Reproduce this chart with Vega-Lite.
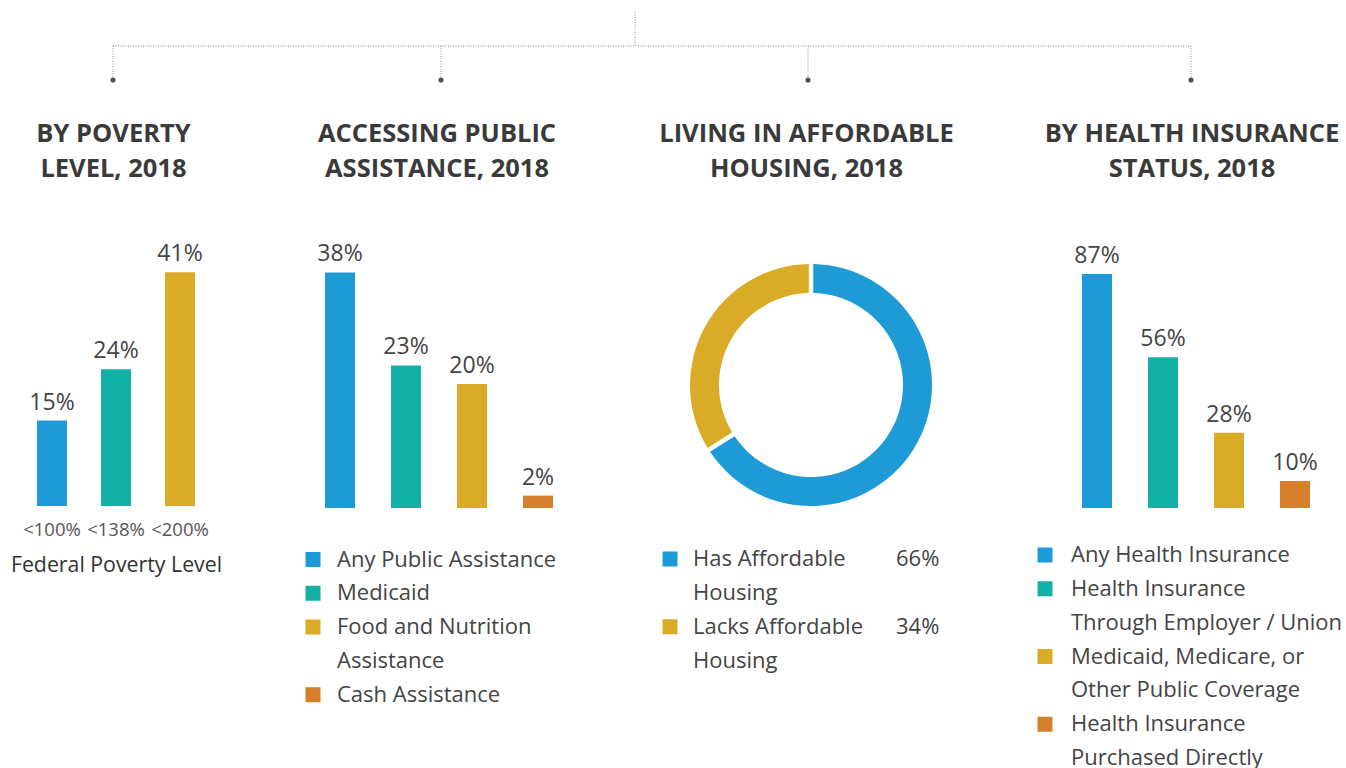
{
  "$schema": "https://vega.github.io/schema/vega-lite/v6.json",
  "padding": 0,
  "background": "white",
  "bounds": "flush",
  "spacing": 160,
  "config": {
    "view": {"stroke": null},
    "font": "Open Sans",
    "legend": {
      "orient": "none",
      "direction": "vertical",
      "symbolType": "square",
      "symbolSize": 225,
      "symbolStrokeWidth": 0,
      "labelFontSize": 22,
      "labelColor": "#444444",
      "labelFont": "Open Sans",
      "labelLimit": 400,
      "rowPadding": 11.75,
      "labelOffset": 13,
      "padding": 0
    },
    "title": {"fontSize": 25.5, "fontWeight": "bold", "color": "#3a3a3a", "lineHeight": 35, "frame": "group", "anchor": "middle", "offset": 58, "font": "Open Sans"}
  },
  "vconcat": [
    {
      "width": 1346,
      "height": 80,
      "layer": [
        {
          "data": {"values": [
            {"from": 1, "to": 4, "lvl": 1, "lvl2": 1},
            {"from": 2.5, "to": 2.5, "lvl": 2, "lvl2": 1},
            {"from": 1, "to": 1, "lvl": 1, "lvl2": 0},
            {"from": 2, "to": 2, "lvl": 1, "lvl2": 0},
            {"from": 3, "to": 3, "lvl": 1, "lvl2": 0},
            {"from": 4, "to": 4, "lvl": 1, "lvl2": 0}
          ]},
          "mark": {"type": "rule", "strokeDash": [1, 1.5], "color": "#8a8a8a", "strokeWidth": 1},
          "encoding": {
            "x": {"field": "from", "type": "quantitative", "scale": {"domain": [1, 2, 2.5, 3, 4], "range": [113, 441, 635, 808, 1191], "nice": false, "zero": false}, "axis": null},
            "x2": {"field": "to"},
            "y": {"field": "lvl", "type": "quantitative", "scale": {"domain": [0, 2.353], "nice": false, "zero": false}, "axis": null},
            "y2": {"field": "lvl2"}
          }
        },
        {
          "data": {"values": [
            {"from": 1, "lvl": 0},
            {"from": 2, "lvl": 0},
            {"from": 3, "lvl": 0},
            {"from": 4, "lvl": 0}
          ]},
          "mark": {"type": "circle", "size": 26, "color": "#505050", "opacity": 1},
          "encoding": {
            "x": {"field": "from", "type": "quantitative"},
            "y": {"field": "lvl", "type": "quantitative"}
          }
        }
      ]
    },
    {
      "hconcat": [
        {
          "width": 232,
          "height": 266,
          "title": {"text": ["BY POVERTY", "LEVEL, 2018"], "dx": -2.5},
          "data": {"values": [
            {"fpl": "<100%", "pct": 0.15},
            {"fpl": "<138%", "pct": 0.24},
            {"fpl": "<200%", "pct": 0.41}
          ]},
          "encoding": {
            "x": {"field": "fpl", "type": "nominal", "sort": null,
              "scale": {"paddingInner": 0.53125, "paddingOuter": 0.578},
              "axis": {"title": "Federal Poverty Level", "labelAngle": 0, "domain": false, "ticks": false, "tickSize": 0, "labelPadding": 14, "labelFontSize": 18.5, "labelColor": "#555555", "labelFont": "Open Sans", "titleFontSize": 21.3, "titleFontWeight": "normal", "titleColor": "#333333", "titleFont": "Open Sans", "titlePadding": 16}},
            "y": {"field": "pct", "type": "quantitative", "scale": {"domain": [0, 0.4667], "nice": false}, "axis": null}
          },
          "layer": [
            {"mark": {"type": "bar"},
             "encoding": {"color": {"field": "fpl", "type": "nominal", "sort": null, "scale": {"domain": ["<100%", "<138%", "<200%"], "range": ["#1e9ad6", "#12b0a6", "#daab26"]}, "legend": null}}},
            {"mark": {"type": "text", "baseline": "alphabetic", "dy": -11, "fontSize": 23, "color": "#444444"},
             "encoding": {"text": {"field": "pct", "type": "quantitative", "format": ".0%"}}}
          ]
        },
        {
          "width": 274,
          "height": 268,
          "title": {"text": ["ACCESSING PUBLIC", "ASSISTANCE, 2018"], "dx": -2},
          "data": {"values": [
            {"cat": "Any Public Assistance", "pct": 0.38},
            {"cat": "Medicaid", "pct": 0.23},
            {"cat": "Food and Nutrition Assistance", "pct": 0.20},
            {"cat": "Cash Assistance", "pct": 0.02}
          ]},
          "encoding": {
            "x": {"field": "cat", "type": "nominal", "sort": null, "scale": {"paddingInner": 0.5455, "paddingOuter": 0.3485}, "axis": null},
            "y": {"field": "pct", "type": "quantitative", "scale": {"domain": [0, 0.4323], "nice": false}, "axis": null}
          },
          "layer": [
            {"mark": {"type": "bar"},
             "encoding": {"color": {"field": "cat", "type": "nominal", "sort": null,
               "scale": {"domain": ["Any Public Assistance", "Medicaid", "Food and Nutrition Assistance", "Cash Assistance"], "range": ["#1e9ad6", "#12b0a6", "#daab26", "#d67f2a"]},
               "legend": {"title": null, "legendX": 0, "legendY": 308.5, "labelOffset": 13, "labelExpr": "datum.label == 'Food and Nutrition Assistance' ? ['Food and Nutrition', 'Assistance'] : datum.label", "encode": {"labels": {"update": {"lineHeight": {"value": 33.75}}}}}}}},
            {"mark": {"type": "text", "baseline": "alphabetic", "dy": -11, "fontSize": 23, "color": "#444444"},
             "encoding": {"text": {"field": "pct", "type": "quantitative", "format": ".0%"}}}
          ]
        },
        {
          "width": 330,
          "height": 290,
          "title": {"text": ["LIVING IN AFFORDABLE", "HOUSING, 2018"], "dx": -4.5},
          "data": {"values": [
            {"cat": "Has Affordable Housing", "pct": 0.66},
            {"cat": "Lacks Affordable Housing", "pct": 0.34}
          ]},
          "mark": {"type": "arc", "outerRadius": 121, "innerRadius": 92, "padAngle": 0.03},
          "encoding": {
            "theta": {"field": "pct", "type": "quantitative", "stack": true},
            "order": {"field": "pct", "type": "quantitative", "sort": "descending"},
            "color": {"field": "cat", "type": "nominal", "sort": null,
              "scale": {"domain": ["Has Affordable Housing", "Lacks Affordable Housing"], "range": ["#1e9ad6", "#daab26"]},
              "legend": {"title": null, "legendX": 13, "legendY": 308, "labelOffset": 12, "labelExpr": "[replace(datum.label, ' Housing', ''), 'Housing']", "encode": {"labels": {"update": {"lineHeight": {"value": 33.75}}}}}},
            "opacity": {"field": "pct", "type": "ordinal", "sort": "descending",
              "scale": {"range": [1, 1]},
              "legend": {"title": null, "legendX": 216, "legendY": 308, "labelOffset": 12, "symbolType": "M0,0", "rowPadding": 45.5, "labelExpr": "format(datum.value, '.0%')"}}
          }
        },
        {
          "width": 300,
          "height": 268,
          "title": {"text": ["BY HEALTH INSURANCE", "STATUS, 2018"], "dx": -4},
          "data": {"values": [
            {"cat": "Any Health Insurance", "pct": 0.87},
            {"cat": "Health Insurance Through Employer / Union", "pct": 0.56},
            {"cat": "Medicaid, Medicare, or Other Public Coverage", "pct": 0.28},
            {"cat": "Health Insurance Purchased Directly", "pct": 0.10}
          ]},
          "encoding": {
            "x": {"field": "cat", "type": "nominal", "sort": null, "scale": {"paddingInner": 0.5455, "paddingOuter": 0.5455}, "axis": null},
            "y": {"field": "pct", "type": "quantitative", "scale": {"domain": [0, 0.996], "nice": false}, "axis": null}
          },
          "layer": [
            {"mark": {"type": "bar"},
             "encoding": {"color": {"field": "cat", "type": "nominal", "sort": null,
               "scale": {"domain": ["Any Health Insurance", "Health Insurance Through Employer / Union", "Medicaid, Medicare, or Other Public Coverage", "Health Insurance Purchased Directly"], "range": ["#1e9ad6", "#12b0a6", "#daab26", "#d67f2a"]},
               "legend": {"title": null, "legendX": -12, "legendY": 304, "labelOffset": 15, "labelExpr": "datum.label == 'Health Insurance Through Employer / Union' ? ['Health Insurance', 'Through Employer / Union'] : datum.label == 'Medicaid, Medicare, or Other Public Coverage' ? ['Medicaid, Medicare, or', 'Other Public Coverage'] : datum.label == 'Health Insurance Purchased Directly' ? ['Health Insurance', 'Purchased Directly'] : datum.label", "encode": {"labels": {"update": {"lineHeight": {"value": 33.75}}}}}}}},
            {"mark": {"type": "text", "baseline": "alphabetic", "dy": -11, "fontSize": 23, "color": "#444444"},
             "encoding": {"text": {"field": "pct", "type": "quantitative", "format": ".0%"}}}
          ]
        }
      ],
      "spacing": 70,
      "bounds": "flush",
      "resolve": {"scale": {"color": "independent", "opacity": "independent"}, "legend": {"color": "independent", "opacity": "independent"}}
    }
  ]
}
